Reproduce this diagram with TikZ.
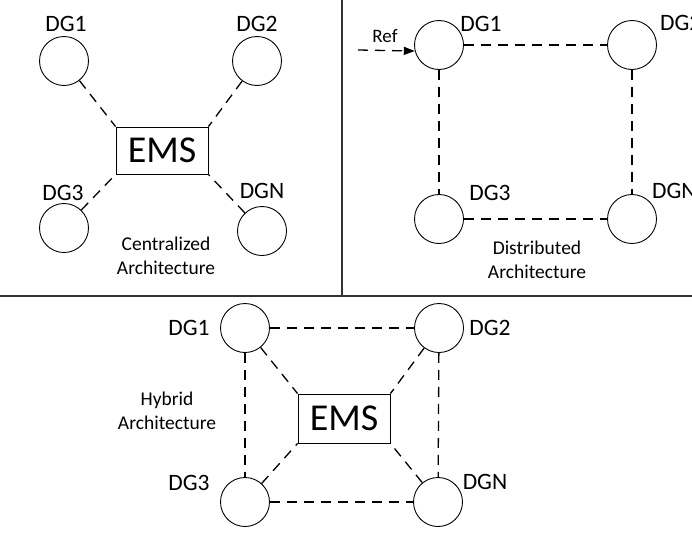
\documentclass[tikz,border=0pt]{standalone}
\usepackage{fontspec}
\setmainfont{Carlito}
\usetikzlibrary{arrows.meta}

\begin{document}
\begin{tikzpicture}[
    x=1pt, y=-1pt,
    dgnode/.style={circle, draw, line width=0.9pt,
                   minimum size=49pt, inner sep=0pt},
    emsbox/.style={rectangle, draw, line width=0.9pt,
                   minimum width=92pt, minimum height=47pt, inner sep=0pt,
                   font=\fontsize{38}{42}\selectfont},
    dglabel/.style={anchor=base, inner sep=0pt,
                    font=\fontsize{23.5}{27}\selectfont},
    archname/.style={align=center, inner sep=0pt,
                     font=\fontsize{19.5}{24.5}\selectfont},
    dline/.style={line width=1.3pt, dash pattern=on 10pt off 7pt},
    divider/.style={line width=1.5pt, black!80},
  ]
  \path[use as bounding box, fill=white] (0,0) rectangle (692,541);

  %% DIVIDERS
  \coordinate (vtop) at (342,0);
  \coordinate (vbot) at (342,296);
  \coordinate (hleft) at (0,296);
  \coordinate (hright) at (692,296);
  \draw[divider] (vtop) -- (vbot);
  \draw[divider] (hleft) -- (hright);

  %% PANEL 1 -- Centralized
  \node[dgnode] (c1) at (64,61)  {};
  \node[dgnode] (c2) at (257,61) {};
  \node[dgnode] (c3) at (64,228) {};
  \node[dgnode] (cn) at (262,231) {};
  \node[emsbox] (cems) at (162,150.5) {EMS};

  \node[dglabel] (c1lbl) at (66,31)  {DG1};
  \node[dglabel] (c2lbl) at (257,31) {DG2};
  \node[dglabel] (c3lbl) at (63,200) {DG3};
  \node[dglabel] (cnlbl) at (262,198) {DGN};
  \node[archname] (ctext) at (166,256) {Centralized\\Architecture};

  \draw[dline] (c1) -- (cems.north west);
  \draw[dline] (c2) -- (cems.north east);
  \draw[dline] (c3) -- (cems.south west);
  \draw[dline] (cn) -- (cems.south east);

  %% PANEL 2 -- Distributed
  \node[dgnode] (r1) at (439,45)  {};
  \node[dgnode] (r2) at (632,45)  {};
  \node[dgnode] (r3) at (439,219) {};
  \node[dgnode] (rn) at (632,219) {};

  \node[dglabel] (r1lbl) at (481,31) {DG1};
  \node[dglabel, anchor=base west] (r2lbl) at (660,30) {DG2};
  \node[dglabel] (r3lbl) at (490,200) {DG3};
  \node[dglabel, anchor=base west] (rnlbl) at (652,198) {DGN};
  \node[archname] (rtext) at (537,260) {Distributed\\Architecture};

  \node[anchor=base, inner sep=0pt, font=\fontsize{19}{22}\selectfont]
    (reflbl) at (385,42) {Ref};
  \coordinate (refin) at (358,50);
  \draw[dline, -{Triangle[length=11pt, width=8pt]}] (refin) -- (r1.194);

  \draw[dline] (r1) -- (r2);
  \draw[dline] (r1) -- (r3);
  \draw[dline] (r2) -- (rn);
  \draw[dline] (r3) -- (rn);

  %% PANEL 3 -- Hybrid
  \node[dgnode] (h1) at (245,328) {};
  \node[dgnode] (h2) at (439,328) {};
  \node[dgnode] (h3) at (245,502) {};
  \node[dgnode] (hn) at (438,502) {};
  \node[emsbox, minimum height=49pt] (hems) at (344,418.5) {EMS};

  \node[dglabel] (h1lbl) at (189,335) {DG1};
  \node[dglabel] (h2lbl) at (490,335) {DG2};
  \node[dglabel] (h3lbl) at (189,490) {DG3};
  \node[dglabel] (hnlbl) at (485,489) {DGN};
  \node[archname] (htext) at (167,411) {Hybrid\\Architecture};

  \draw[dline] (h1) -- (h2);
  \draw[dline] (h1) -- (h3);
  \draw[dline] (h2) -- (hn);
  \draw[dline] (h3) -- (hn);
  \draw[dline] (h1) -- (hems.north west);
  \draw[dline] (h2) -- (hems.north east);
  \draw[dline] (h3) -- (hems.south west);
  \draw[dline] (hn) -- (hems.south east);

\end{tikzpicture}
\end{document}
